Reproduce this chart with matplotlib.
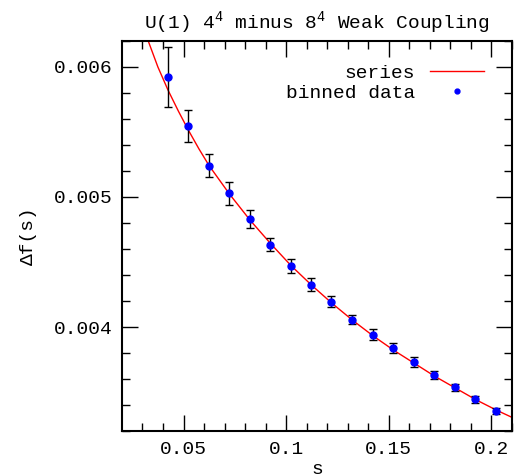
import matplotlib
matplotlib.use("Agg")
import matplotlib.pyplot as plt
import numpy as np

# binned data
s_data = [0.0424, 0.0523, 0.0623, 0.0722, 0.0823, 0.0922, 0.1022, 0.1123, 0.1220,
          0.1321, 0.1421, 0.1521, 0.1621, 0.1722, 0.1823, 0.1922, 0.2023]
df_data = [0.005924, 0.005548, 0.005241, 0.005027, 0.004831, 0.004633, 0.004470,
           0.004326, 0.004196, 0.004056, 0.003941, 0.003838, 0.003728, 0.003629,
           0.003535, 0.003443, 0.003357]
df_err = [0.000230, 0.000123, 0.000088, 0.000092, 0.000070, 0.000051, 0.000051,
          0.000051, 0.000040, 0.000034, 0.000040, 0.000038, 0.000038, 0.000030,
          0.000030, 0.000027, 0.000023]

# series curve
s_curve = [0.0328, 0.0375, 0.0425, 0.0475, 0.0525, 0.0575, 0.0625, 0.0725, 0.0825,
           0.0925, 0.1025, 0.1125, 0.1225, 0.1325, 0.1425, 0.1525, 0.1625, 0.1725,
           0.1825, 0.1925, 0.2025, 0.2100]
df_curve = [0.00620, 0.00600, 0.00582, 0.00566, 0.00551, 0.00537, 0.00524, 0.00502,
            0.00482, 0.00464, 0.00447, 0.00432, 0.00418, 0.00405, 0.00393, 0.00382,
            0.00372, 0.00362, 0.00353, 0.00344, 0.00336, 0.003305]

xticks = [0.05, 0.1, 0.15, 0.2]
xtick_labels = ["0.05", "0.1", "0.15", "0.2"]
yticks = [0.004, 0.005, 0.006]
ytick_labels = ["0.004", "0.005", "0.006"]

plt.rcParams["font.family"] = ["Liberation Mono", "DejaVu Sans"]
plt.rcParams["font.size"] = 14
plt.rcParams["mathtext.fontset"] = "custom"
plt.rcParams["mathtext.rm"] = "Liberation Mono"
plt.rcParams["mathtext.it"] = "Liberation Mono"
plt.rcParams["mathtext.default"] = "regular"

fig = plt.figure(figsize=(5.19, 4.76), dpi=100)
ax = fig.add_axes([0.235, 0.0945, 0.7515, 0.8194])

ax.plot(s_curve, df_curve, color="red", lw=1.0, label="series", zorder=2)
ax.errorbar(s_data, df_data, yerr=df_err, fmt="none", ecolor="black",
            elinewidth=1.0, capsize=3, capthick=1.0, zorder=3)
ax.plot(s_data, df_data, "o", color="blue", ms=5, ls="none",
        label="binned data", zorder=4)

ax.set_xlim(0.02, 0.21)
ax.set_ylim(0.0032, 0.0062)
ax.set_xticks(xticks)
ax.set_xticklabels(xtick_labels)
ax.set_yticks(yticks)
ax.set_yticklabels(ytick_labels)
ax.set_xticks(np.arange(0.03, 0.2101, 0.01), minor=True)
ax.set_yticks(np.arange(0.0032, 0.00621, 0.0002), minor=True)
ax.tick_params(which="both", direction="in", top=True, right=True, width=1.0)
ax.tick_params(which="major", length=11.5, pad=7)
ax.tick_params(which="minor", length=5.8)
for sp in ax.spines.values():
    sp.set_linewidth(1.5)

ax.set_xlabel("s", labelpad=2)
ax.set_ylabel("\u0394f(s)", labelpad=12)
ax.set_title("U(1) 4$^4$ minus 8$^4$ Weak Coupling", fontsize=14, pad=9)

leg = ax.legend(loc="upper right", bbox_to_anchor=(0.954, 0.966),
                markerfirst=False, frameon=False, borderpad=0,
                handlelength=2.8, handletextpad=0.75, labelspacing=0.15,
                markerscale=0.7)

fig.savefig("out.png", dpi=100)
